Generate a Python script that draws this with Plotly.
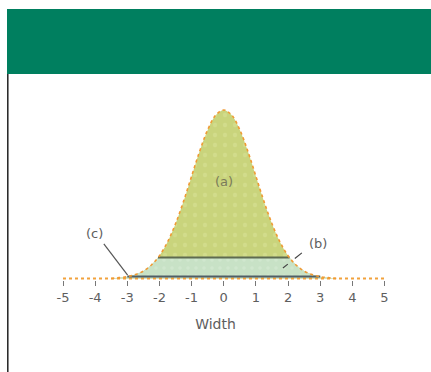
import numpy as np
import plotly.graph_objects as go

# ---- data ----
curve_x = [-3.5, -3.25, -3.0, -2.75, -2.5, -2.25, -2.0, -1.75, -1.5, -1.25, -1.0, -0.75, -0.5, -0.25,
           0.0, 0.25, 0.5, 0.75, 1.0, 1.25, 1.5, 1.75, 2.0, 2.25, 2.5, 2.75, 3.0, 3.25, 3.5]
curve_y = [0.0, 0.005, 0.011, 0.023, 0.044, 0.080, 0.135, 0.216, 0.325, 0.458, 0.607, 0.755, 0.882, 0.969,
           1.0, 0.969, 0.882, 0.755, 0.607, 0.458, 0.325, 0.216, 0.135, 0.080, 0.044, 0.023, 0.011, 0.005, 0.0]
band_level = 0.125          # top of region (b)
base_span = [-3.0, 3.0]     # extent of the bottom dark line
axis_span = [-5, 5]
tick_vals = [-5, -4, -3, -2, -1, 0, 1, 2, 3, 4, 5]
tick_text = ["-5", "-4", "-3", "-2", "-1", "0", "1", "2", "3", "4", "5"]
x_title = "Width"
label_a = "(a)"
label_b = "(b)"
label_c = "(c)"

cx = np.array(curve_x)
cy = np.array(curve_y)

# intersection of the curve with the band level
left_mask = cx < 0
xl = float(np.interp(band_level, cy[left_mask], cx[left_mask]))
xr = -xl

bx = list(cx[(cx <= xl)]) + [xl, xr] + list(cx[(cx >= xr)])
by = list(cy[(cx <= xl)]) + [band_level, band_level] + list(cy[(cx >= xr)])

fig = go.Figure()

# (a) whole area under the curve
fig.add_trace(go.Scatter(x=curve_x, y=curve_y, mode="lines", line_shape="spline",
                         fill="toself", fillcolor="#C9D47C",
                         fillpattern=dict(shape=".", fgcolor="#D9E49A", bgcolor="#C9D47C", size=10, solidity=0.15),
                         line=dict(color="rgba(0,0,0,0)", width=0), hoverinfo="skip", showlegend=False))
# (b) band near the base
fig.add_trace(go.Scatter(x=bx, y=by, mode="lines", fill="toself", fillcolor="#C8E2C6",
                         fillpattern=dict(shape=".", fgcolor="#D8ECD6", bgcolor="#C8E2C6", size=8, solidity=0.15),
                         line=dict(color="rgba(0,0,0,0)", width=0), hoverinfo="skip", showlegend=False))
# baseline orange dotted
fig.add_trace(go.Scatter(x=axis_span, y=[0, 0], mode="lines",
                         line=dict(color="#F2A23C", width=2, dash="dot"), hoverinfo="skip", showlegend=False))
# band top line
fig.add_trace(go.Scatter(x=[xl, xr], y=[band_level, band_level], mode="lines",
                         line=dict(color="#5E6B50", width=2), hoverinfo="skip", showlegend=False))
# bottom dark line
fig.add_trace(go.Scatter(x=base_span, y=[0.012, 0.012], mode="lines",
                         line=dict(color="#4F5F66", width=2), hoverinfo="skip", showlegend=False))
# curve outline orange dotted
fig.add_trace(go.Scatter(x=curve_x, y=curve_y, mode="lines", line_shape="spline",
                         line=dict(color="#F09A34", width=1.6, dash="dot"), hoverinfo="skip", showlegend=False))

W, H = 431, 372
plot_bottom = 280
base_px = 278.5
peak_px = 110
ppu_y = base_px - peak_px
ppu_x = (384.5 - 63) / 10
x0_data = -5 - 63 / ppu_x
x1_data = 5 + (W - 384.5) / ppu_x
y_lo = -(plot_bottom - base_px) / ppu_y
y_hi = base_px / ppu_y


def py(p):
    return (plot_bottom - p) / plot_bottom


fig.update_layout(
    width=W, height=H,
    margin=dict(l=0, r=0, t=0, b=H - plot_bottom),
    paper_bgcolor="white", plot_bgcolor="white",
    font=dict(family="DejaVu Sans", color="#666666", size=12),
    xaxis=dict(range=[x0_data, x1_data], showgrid=False, zeroline=False, showline=False,
               tickmode="array", tickvals=tick_vals, ticktext=tick_text,
               ticks="outside", ticklen=5, tickwidth=1, tickcolor="#777777",
               tickfont=dict(size=13, color="#5E5E5E"),
               title=dict(text=x_title, font=dict(size=14, color="#5E5E5E"), standoff=15),
               fixedrange=True),
    yaxis=dict(range=[y_lo, y_hi], visible=False, fixedrange=True),
    shapes=[
        dict(type="rect", xref="paper", yref="paper", x0=7 / W, x1=1, y0=py(74), y1=py(9),
             fillcolor="#007F5F", line=dict(width=0), layer="above"),
        dict(type="line", xref="paper", yref="paper", x0=7.8 / W, x1=7.8 / W, y0=py(74), y1=py(H),
             line=dict(color="#222222", width=1.5)),
        dict(type="line", x0=-3.73, y0=0.205, x1=-2.99, y1=0.02,
             line=dict(color="#555555", width=1.2)),
        dict(type="line", x0=2.43, y0=0.152, x1=1.84, y1=0.062,
             line=dict(color="#444444", width=1.2, dash="dash")),
    ],
    annotations=[
        dict(x=0, y=0.574, text=label_a, showarrow=False, font=dict(size=13, color="#7A7A5A")),
        dict(x=2.92, y=0.205, text=label_b, showarrow=False, font=dict(size=13, color="#5E5E5E")),
        dict(x=-4.01, y=0.27, text=label_c, showarrow=False, font=dict(size=13, color="#5E5E5E")),
    ],
)

fig.write_html("out.html", config={"displayModeBar": False},
               post_script="document.body.style.margin='0';document.body.style.overflow='hidden';")
